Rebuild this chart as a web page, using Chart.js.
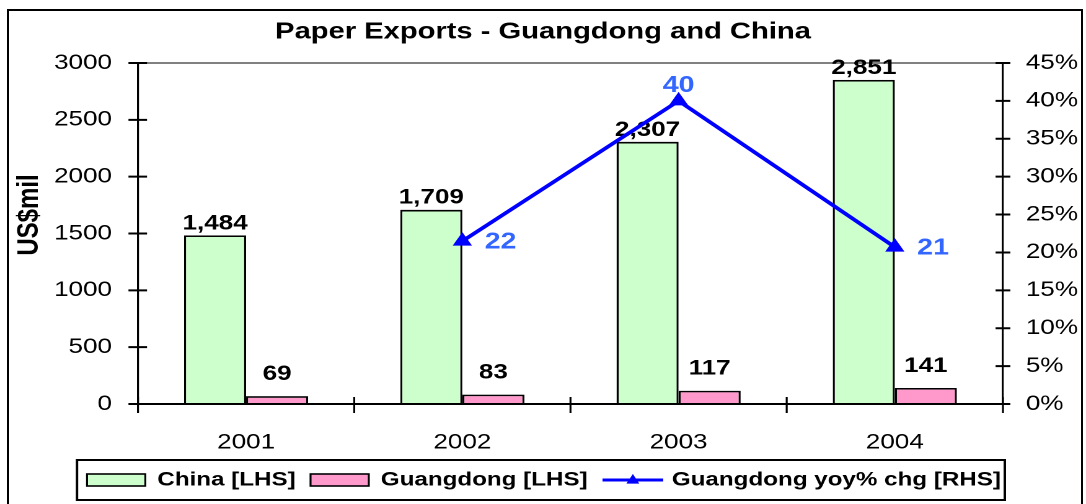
<!DOCTYPE html>
<html lang="en">
<head>
<meta charset="utf-8">
<style>
    html, body { margin: 0; padding: 0; background: #fff; }
    body { width: 1086px; height: 504px; overflow: hidden; position: relative; }
    /* outer chart frame */
    #frame { position: absolute; left: 7px; top: 9px; width: 1076px; height: 520px;
             border: 2px solid #000; box-sizing: border-box; }
    /* the source picture is stretched sideways, so the canvas is too */
    #chart { position: absolute; left: 0; top: 0; width: 876px; height: 504px;
             transform: scaleX(1.23973); transform-origin: 0 0; }
</style>
</head>
<body>
<div id="frame"></div>
<canvas id="chart" width="876" height="504"></canvas>

<script src="https://cdn.jsdelivr.net/npm/chart.js"></script>
<script>
    // data
    const years = ['2001', '2002', '2003', '2004'];
    const chinaExports = [1484, 1709, 2307, 2851];
    const guangdongExports = [69, 83, 117, 141];
    const guangdongYoy = [null, 21.5, 40, 20.7];

    const lhsMax = 3000, lhsStep = 500;
    const rhsMax = 45, rhsStep = 5;

    const titleText = 'Paper Exports - Guangdong and China';
    const yTitleText = 'US$mil';

    const FONT = "'Liberation Sans', Arial, sans-serif";
    Chart.defaults.font.family = FONT;
    Chart.defaults.color = '#000';

    // value labels on bars (under the line) and on line points
    const valueLabels = {
        id: 'valueLabels',
        afterDatasetDraw(chart, args) {
            const ds = chart.data.datasets[args.index];
            const ctx = chart.ctx;
            ctx.save();
            args.meta.data.forEach(function (el, i) {
                const v = ds.data[i];
                if (v == null) return;
                if (ds.type === 'line') {
                    ctx.fillStyle = '#3366FF';
                    ctx.font = 'bold 23px ' + FONT;
                    const txt = String(Math.round(v));
                    const max = Math.max.apply(null, ds.data.filter(d => d != null));
                    if (v === max) {
                        ctx.textAlign = 'center';
                        ctx.textBaseline = 'alphabetic';
                        ctx.fillText(txt, el.x, el.y - 9);
                    } else {
                        ctx.textAlign = 'left';
                        ctx.textBaseline = 'middle';
                        ctx.fillText(txt, el.x + 18, el.y + 1);
                    }
                } else {
                    ctx.fillStyle = '#000';
                    ctx.font = 'bold 21px ' + FONT;
                    ctx.textAlign = 'center';
                    ctx.textBaseline = 'alphabetic';
                    ctx.fillText(v.toLocaleString('en-US'), el.x, el.y - ds.labelGap);
                }
            });
            ctx.restore();
        }
    };

    // tick marks that cross the axes, like Excel
    const crossTicks = {
        id: 'crossTicks',
        afterDraw(chart) {
            const ctx = chart.ctx;
            const x = chart.scales.x, y = chart.scales.y, y1 = chart.scales.y1;
            ctx.save();
            ctx.strokeStyle = '#000';
            ctx.beginPath();
            ctx.lineWidth = 2;
            y.ticks.forEach(function (t) {
                const py = y.getPixelForValue(t.value);
                ctx.moveTo(y.right - 7.7, py); ctx.lineTo(y.right + 7.3, py);
            });
            y1.ticks.forEach(function (t) {
                const py = y1.getPixelForValue(t.value);
                ctx.moveTo(y1.left - 6, py); ctx.lineTo(y1.left + 6, py);
            });
            ctx.stroke();
            ctx.beginPath();
            ctx.lineWidth = 1.6;
            const n = x.ticks.length;
            const step = (x.right - x.left) / n;
            for (let i = 0; i <= n; i++) {
                const px = x.left + i * step;
                ctx.moveTo(px, x.top - 7); ctx.lineTo(px, x.top + 9);
            }
            ctx.stroke();

            // rotated y axis title
            ctx.fillStyle = '#000';
            ctx.font = 'bold 24px ' + FONT;
            ctx.translate(24, 215);
            ctx.rotate(-Math.PI / 2);
            ctx.textAlign = 'center';
            ctx.textBaseline = 'middle';
            ctx.fillText(yTitleText, 0, 0);
            ctx.restore();
        }
    };

    // boxed legend along the bottom
    const legendBox = {
        id: 'legendBox',
        afterDraw(chart) {
            const ctx = chart.ctx;
            ctx.save();
            ctx.strokeStyle = '#000';
            ctx.lineWidth = 2;
            ctx.strokeRect(62.1, 460, 748.4, 40);

            ctx.font = 'bold 19.5px ' + FONT;
            ctx.textAlign = 'left';
            ctx.textBaseline = 'middle';
            const cy = 480;
            let x = 70.2;
            chart.data.datasets.forEach(function (ds) {
                if (ds.type === 'line') {
                    ctx.strokeStyle = ds.borderColor;
                    ctx.lineWidth = 3;
                    ctx.beginPath();
                    ctx.moveTo(x, cy); ctx.lineTo(x + 49, cy);
                    ctx.stroke();
                    const cx = x + 24.5, r = 6;
                    ctx.fillStyle = ds.pointBackgroundColor;
                    ctx.beginPath();
                    ctx.moveTo(cx, cy - r);
                    ctx.lineTo(cx + r * 0.87, cy + r * 0.6);
                    ctx.lineTo(cx - r * 0.87, cy + r * 0.6);
                    ctx.closePath();
                    ctx.fill();
                    x += 49 + 7;
                } else {
                    ctx.fillStyle = ds.backgroundColor;
                    ctx.fillRect(x, cy - 6, 47, 12);
                    ctx.strokeStyle = '#000';
                    ctx.lineWidth = 1.6;
                    ctx.strokeRect(x, cy - 6, 47, 12);
                    x += 47 + 9.7;
                }
                ctx.fillStyle = '#000';
                ctx.fillText(ds.label, x, cy);
                x += ctx.measureText(ds.label).width + 12;
            });
            ctx.restore();
        }
    };

    const chart = new Chart(document.getElementById('chart'), {
        data: {
            labels: years,
            datasets: [{
                type: 'bar',
                label: 'China [LHS]',
                data: chinaExports,
                backgroundColor: '#CCFFCC',
                borderColor: '#000',
                borderWidth: 1.7,
                labelGap: 6,
                yAxisID: 'y',
                order: 1
            }, {
                type: 'bar',
                label: 'Guangdong [LHS]',
                data: guangdongExports,
                backgroundColor: '#FF99CC',
                borderColor: '#000',
                borderWidth: 1.7,
                labelGap: 16,
                yAxisID: 'y',
                order: 1
            }, {
                type: 'line',
                label: 'Guangdong yoy% chg [RHS]',
                data: guangdongYoy,
                borderColor: '#0000FF',
                borderWidth: 3.5,
                pointStyle: 'triangle',
                pointRadius: 8,
                pointBackgroundColor: '#0000FF',
                pointBorderColor: '#0000FF',
                pointBorderWidth: 1,
                tension: 0,
                yAxisID: 'y1',
                order: 0
            }]
        },
        options: {
            responsive: false,
            devicePixelRatio: 2,
            animation: false,
            layout: { padding: 0 },
            datasets: {
                bar: { categoryPercentage: 0.574, barPercentage: 1 }
            },
            plugins: {
                legend: { display: false },
                tooltip: { enabled: false },
                title: {
                    display: true,
                    text: titleText,
                    color: '#000',
                    font: { size: 23.5, weight: 'bold', lineHeight: 1.2 },
                    padding: { top: 18, bottom: 16.8 }
                }
            },
            scales: {
                x: {
                    grid: { display: false, drawTicks: false },
                    border: { display: true, color: '#000', width: 2 },
                    ticks: { color: '#000', font: { size: 21 }, padding: 26 },
                    afterFit(s) { s.height = 100; }
                },
                y: {
                    position: 'left',
                    min: 0,
                    max: lhsMax,
                    ticks: {
                        stepSize: lhsStep, color: '#000', font: { size: 21 }, padding: 21,
                        callback: v => String(v)
                    },
                    grid: {
                        drawTicks: false,
                        lineWidth: 2,
                        color: c => (c.tick && c.tick.value === lhsMax) ? '#808080' : 'rgba(0,0,0,0)'
                    },
                    border: { color: '#000', width: 1.6 },
                    afterFit(s) { s.width = 111.3; }
                },
                y1: {
                    position: 'right',
                    min: 0,
                    max: rhsMax,
                    ticks: {
                        stepSize: rhsStep, color: '#000', font: { size: 21 }, padding: 18.5,
                        callback: v => v + '%'
                    },
                    grid: { display: false, drawTicks: false },
                    border: { color: '#000', width: 1.6 },
                    afterFit(s) { s.width = 67; }
                }
            }
        },
        plugins: [valueLabels, crossTicks, legendBox]
    });
</script>
</body>
</html>
